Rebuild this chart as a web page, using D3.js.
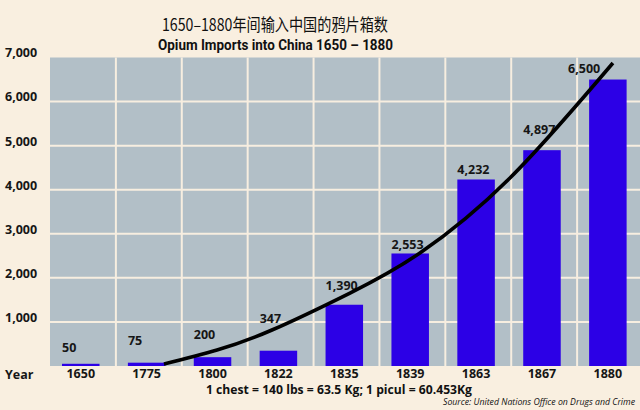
<!DOCTYPE html>
<html><head><meta charset="utf-8">
<script src="https://cdn.jsdelivr.net/npm/d3@7"></script>
<style>
html,body{margin:0;padding:0;background:#f9efe0;}
svg{display:block;}
</style></head>
<body>
<svg id="chart" width="640" height="410"></svg>
<script>
// ---- data ----
const years = ["1650","1775","1800","1822","1835","1839","1863","1867","1880"];
const chests = [50, 75, 200, 347, 1390, 2553, 4232, 4897, 6500];
const yTicks = [1000, 2000, 3000, 4000, 5000, 6000, 7000];
// trend curve: position in bar-index units, value in chests
const trendIndex = [1.263, 2.068, 2.902, 4.086, 5.148, 6.514, 8.077];
const trendValue = [45, 363, 817, 1656, 2564, 4266, 6875];
const titleCN = "1650–1880年间输入中国的鸦片箱数";
const titleEN = "Opium Imports into China 1650 – 1880";
const note = "1 chest = 140 lbs = 63.5 Kg; 1 picul = 60.453Kg";
const source = "Source: United Nations Office on Drugs and Crime";

// ---- layout ----
const labelLift = [16.5, 22, 23, 31.7, 18.7, 9.2, 10.2, 21, 11.2];
const labelShift = [0, 0, 0, 0, 0, 0, 0, 0, -21];
const L = 50, R = 643, T = 57.5, B = 366;
const font = "'Open Sans', 'Noto Sans', sans-serif";

const svg = d3.select("#chart");
const x = d3.scaleBand().domain(years).range([L, R]).padding(0);
const y = d3.scaleLinear().domain([0, 7000]).range([B, T]);
const bw = x.bandwidth();
const barOff = 12, barW = 37.5;

// plot background
svg.append("rect").attr("x", L).attr("y", T).attr("width", 640 - L).attr("height", B - T).attr("fill", "#b2bfc7");

// grid
svg.append("g").selectAll("line").data(yTicks.filter(d => d < 7000)).join("line")
  .attr("x1", L).attr("x2", 640).attr("y1", d => y(d)).attr("y2", d => y(d))
  .attr("stroke", "#f7eee0").attr("stroke-width", 2);
svg.append("g").selectAll("line").data(years.slice(1)).join("line")
  .attr("x1", d => x(d)).attr("x2", d => x(d)).attr("y1", T).attr("y2", B)
  .attr("stroke", "#f7eee0").attr("stroke-width", 2);

// bars
svg.append("g").selectAll("rect").data(years).join("rect")
  .attr("x", d => x(d) + barOff).attr("width", barW)
  .attr("y", (d, i) => y(chests[i])).attr("height", (d, i) => B - y(chests[i]))
  .attr("fill", "#2c00e6");

// value labels
const fmt = d3.format(",");
svg.append("g").selectAll("text").data(years).join("text")
  .attr("x", (d, i) => x(d) + barOff + labelShift[i])
  .attr("y", (d, i) => y(chests[i]) - labelLift[i])
  .attr("dy", "0.35em")
  .attr("font-family", font).attr("font-weight", 700).attr("font-size", 12.5)
  .attr("fill", "#161616")
  .text((d, i) => fmt(chests[i]));

// trend curve
const xc = d3.scaleLinear().domain([0, 8]).range([x(years[0]) + barOff + barW / 2, x(years[8]) + barOff + barW / 2]);
const line = d3.line().x(d => xc(d[0])).y(d => y(d[1])).curve(d3.curveNatural);
svg.append("path").datum(trendIndex.map((c, i) => [c, trendValue[i]]))
  .attr("d", line).attr("fill", "none").attr("stroke", "#000").attr("stroke-width", 3.6);

// y axis
const yAxis = svg.append("g").attr("transform", "translate(5,0)")
  .call(d3.axisLeft(y).tickValues(yTicks).tickSize(0).tickFormat(d3.format(",")));
yAxis.select(".domain").remove();
yAxis.selectAll("text").attr("x", 0).attr("dy", "-0.05em").attr("text-anchor", "start")
  .attr("font-family", font).attr("font-weight", 700).attr("font-size", 12.5).attr("fill", "#161616");

// x axis
const xAxis = svg.append("g").attr("transform", `translate(${barOff + barW / 2 - bw / 2},${B})`)
  .call(d3.axisBottom(x).tickSize(0).tickPadding(3));
xAxis.select(".domain").remove();
xAxis.selectAll("text")
  .attr("font-family", font).attr("font-weight", 700).attr("font-size", 12.5).attr("fill", "#161616");

svg.append("text").attr("x", 5).attr("y", 374.5).attr("dy", "0.35em")
  .attr("font-family", font).attr("font-weight", 700).attr("font-size", 12.5).attr("fill", "#161616")
  .text("Year");

// titles
svg.append("text").attr("x", 275).attr("y", 25).attr("dy", "0.35em").attr("text-anchor", "middle")
  .attr("font-family", "'Noto Sans CJK SC', sans-serif").attr("font-size", 17).attr("fill", "#111")
  .attr("textLength", 226).attr("lengthAdjust", "spacingAndGlyphs")
  .text(titleCN);
svg.append("text").attr("x", 275.5).attr("y", 45).attr("dy", "0.35em").attr("text-anchor", "middle")
  .attr("font-family", "Roboto, 'Open Sans', sans-serif").attr("font-weight", 700).attr("font-size", 15.5).attr("fill", "#111")
  .attr("textLength", 235).attr("lengthAdjust", "spacingAndGlyphs")
  .text(titleEN);

// footnotes
svg.append("text").attr("x", 339).attr("y", 389.5).attr("dy", "0.35em").attr("text-anchor", "middle")
  .attr("font-family", font).attr("font-weight", 700).attr("font-size", 12.5).attr("fill", "#111")
  .attr("textLength", 266).attr("lengthAdjust", "spacingAndGlyphs")
  .text(note);
svg.append("text").attr("x", 635).attr("y", 402).attr("dy", "0.35em").attr("text-anchor", "end")
  .attr("font-family", font).attr("font-style", "italic").attr("font-size", 8.5).attr("fill", "#111")
  .attr("textLength", 192).attr("lengthAdjust", "spacingAndGlyphs")
  .text(source);
</script>
</body></html>
